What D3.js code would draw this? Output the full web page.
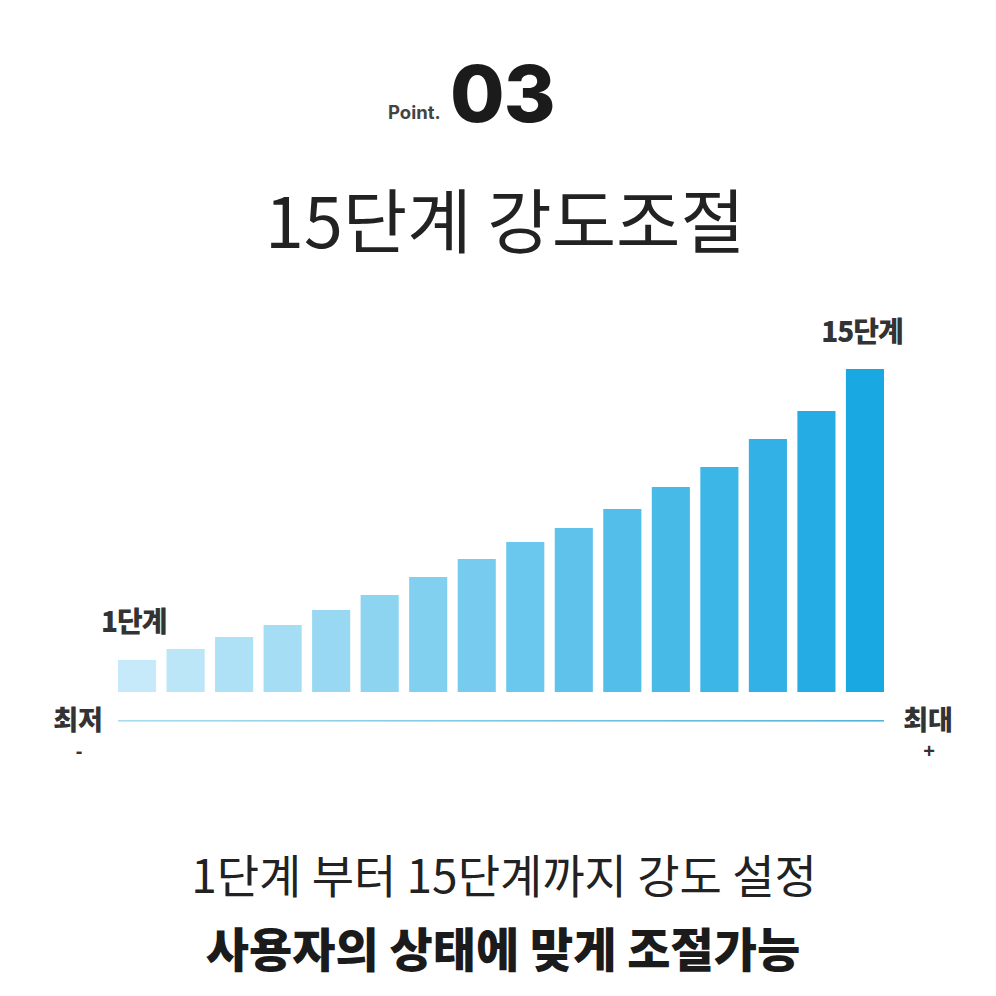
<!DOCTYPE html>
<html><head><meta charset="utf-8">
<script src="https://cdn.jsdelivr.net/npm/d3@7"></script>
<style>html,body{margin:0;padding:0;background:#fff;}svg{display:block;}</style>
</head><body>
<script>
const levels = ["1","2","3","4","5","6","7","8","9","10","11","12","13","14","15","16"];
const values = [32, 43, 55, 67, 82, 97, 115, 133, 150, 164, 183, 205, 225, 253, 281, 323];
const titleText = "15단계 강도조절";
const firstLabel = "1단계";
const lastLabel = "15단계";
const minLabel = "최저";
const maxLabel = "최대";
const caption1 = "1단계 부터 15단계까지 강도 설정";
const caption2 = "사용자의 상태에 맞게 조절가능";

const W = 996, H = 996;
const font = "'Noto Sans CJK KR', 'Noto Sans', sans-serif";
const svg = d3.select("body").append("svg").attr("width", W).attr("height", H);
svg.append("rect").attr("width", W).attr("height", H).attr("fill", "#fff");

const x = d3.scaleBand().domain(levels).range([118, 884]).paddingInner(0.215).paddingOuter(0);
const y = d3.scaleLinear().domain([0, 323]).range([692, 369]);
const col = d3.scaleLinear().domain([0, levels.length - 1]).range(["#c6eaf9", "#1aa8e2"]).interpolate(d3.interpolateRgb);

// header
svg.append("text").attr("x", 388).attr("y", 119).attr("font-family", "Inter, Roboto, sans-serif")
  .attr("font-weight", 700).attr("font-size", 18.5).attr("fill", "#444").text("Point.");
svg.append("text").attr("x", 450).attr("y", 122).attr("font-family", "Inter, Roboto, sans-serif")
  .attr("font-weight", 800).attr("font-size", 79).attr("letter-spacing", -1).attr("fill", "#1b1b1b").text("03");
svg.append("text").attr("x", 505).attr("y", 248).attr("text-anchor", "middle").attr("font-family", font)
  .attr("font-weight", 400).attr("font-size", 70).attr("fill", "#222").text(titleText);

// bars
svg.selectAll("rect.bar").data(levels).join("rect").attr("class", "bar")
  .attr("x", d => x(d)).attr("width", x.bandwidth())
  .attr("y", (d, i) => y(values[i])).attr("height", (d, i) => y(0) - y(values[i]))
  .attr("fill", (d, i) => col(i));

// baseline
const grad = svg.append("defs").append("linearGradient").attr("id", "lg");
grad.append("stop").attr("offset", 0).attr("stop-color", "#a9dcef");
grad.append("stop").attr("offset", 1).attr("stop-color", "#4fb4d6");
svg.append("rect").attr("x", x.range()[0]).attr("y", 720).attr("width", x.range()[1] - x.range()[0]).attr("height", 1.6).attr("fill", "url(#lg)");

// labels
svg.append("text").attr("x", 101).attr("y", 632).attr("font-family", font).attr("font-weight", 800)
  .attr("font-size", 28).attr("fill", "#333").attr("letter-spacing", -1).text(firstLabel);
svg.append("text").attr("x", 862).attr("y", 342).attr("text-anchor", "middle")
  .attr("font-family", font).attr("font-weight", 800).attr("font-size", 28).attr("fill", "#333").attr("letter-spacing", -1).text(lastLabel);
svg.append("text").attr("x", 78).attr("y", 730).attr("text-anchor", "middle").attr("font-family", font).attr("font-weight", 800)
  .attr("font-size", 27).attr("fill", "#333").text(minLabel);
svg.append("text").attr("x", 79).attr("y", 758).attr("text-anchor", "middle").attr("font-family", "'Liberation Sans', Arial, sans-serif").attr("font-weight", 700)
  .attr("font-size", 20).attr("fill", "#333").text("-");
svg.append("text").attr("x", 928).attr("y", 730).attr("text-anchor", "middle").attr("font-family", font).attr("font-weight", 800)
  .attr("font-size", 27).attr("fill", "#333").text(maxLabel);
svg.append("text").attr("x", 929).attr("y", 758).attr("text-anchor", "middle").attr("font-family", "'Liberation Sans', Arial, sans-serif").attr("font-weight", 700)
  .attr("font-size", 20).attr("fill", "#333").text("+");

// captions
svg.append("text").attr("x", 504).attr("y", 893).attr("text-anchor", "middle").attr("font-family", font)
  .attr("font-weight", 400).attr("font-size", 46).attr("fill", "#222").text(caption1);
svg.append("text").attr("x", 503).attr("y", 967).attr("text-anchor", "middle").attr("font-family", font)
  .attr("font-weight", 900).attr("font-size", 47).attr("fill", "#1b1b1b").text(caption2);
</script>
</body></html>
